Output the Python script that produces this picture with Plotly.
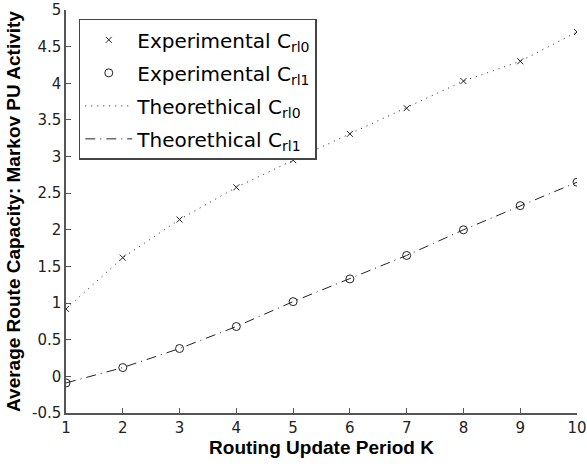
import plotly.graph_objects as go

k = [1, 2, 3, 4, 5, 6, 7, 8, 9, 10]
exp_c0 = [0.92, 1.62, 2.14, 2.58, 2.95, 3.31, 3.66, 4.03, 4.30, 4.70]
exp_c1 = [-0.09, 0.12, 0.38, 0.68, 1.02, 1.33, 1.65, 2.00, 2.33, 2.65]
theo_c0 = [0.92, 1.62, 2.14, 2.58, 2.95, 3.31, 3.66, 4.03, 4.30, 4.70]
theo_c1 = [-0.09, 0.12, 0.38, 0.68, 1.02, 1.33, 1.65, 2.00, 2.33, 2.65]
x_ticks = [1, 2, 3, 4, 5, 6, 7, 8, 9, 10]
y_ticks = [-0.5, 0, 0.5, 1, 1.5, 2, 2.5, 3, 3.5, 4, 4.5, 5]
y_ticklabels = ["-0.5", "0", "0.5", "1", "1.5", "2", "2.5", "3", "3.5", "4", "4.5", "5"]

FONT = "DejaVu Sans, sans-serif"
TFONT = "Liberation Sans, Arial, sans-serif"
INK = "#222222"

fig = go.Figure()
fig.add_trace(go.Scatter(x=k, y=exp_c0, mode="markers", name="Experimental C<sub>rl0</sub>",
                         legendgroup="a",
                         marker=dict(symbol="x-thin", size=6, line=dict(width=1, color=INK), color=INK)))
fig.add_trace(go.Scatter(x=k, y=exp_c1, mode="markers", name="Experimental C<sub>rl1</sub>",
                         legendgroup="b",
                         marker=dict(symbol="circle-open", size=8, line=dict(width=1, color=INK), color=INK)))
fig.add_trace(go.Scatter(x=k, y=theo_c0, mode="lines", name="Theorethical C<sub>rl0</sub>",
                         legendgroup="c",
                         line=dict(color=INK, width=1, dash="1px,5px")))
fig.add_trace(go.Scatter(x=k, y=theo_c1, mode="lines", name="Theorethical C<sub>rl1</sub>",
                         legendgroup="d",
                         line=dict(color=INK, width=1, dash="10px,5px,1px,5px")))

axis_common = dict(showgrid=False, zeroline=False, showline=True, linecolor="#555555", linewidth=1.5,
                   ticks="inside", ticklen=5, tickcolor="#555555", tickwidth=1,
                   tickfont=dict(family=FONT, size=15, color=INK), mirror=False,
                   automargin=False)

fig.update_layout(
    width=587, height=467,
    margin=dict(l=66, r=10, t=10, b=54),
    paper_bgcolor="white", plot_bgcolor="white",
    showlegend=True,
    legend=dict(x=0.025, y=0.978, xanchor="left", yanchor="top",
                bgcolor="white", bordercolor="#444444", borderwidth=1.5,
                font=dict(family=FONT, size=20, color="black"),
                tracegroupgap=4, itemwidth=47),
    xaxis=dict(range=[1, 10], tickvals=x_ticks,
               title=dict(text="Routing Update Period K", standoff=0,
                          font=dict(family=TFONT, size=19, color="black", weight="bold")),
               **axis_common),
    yaxis=dict(range=[-0.5, 5], tickvals=y_ticks, ticktext=y_ticklabels,
               title=dict(text="Average Route Capacity: Markov PU Activity", standoff=6,
                          font=dict(family=TFONT, size=19, color="black", weight="bold")),
               **axis_common),
)

fig.write_html("out.html", post_script="document.body.style.margin='0';",
               config={"displayModeBar": False})
